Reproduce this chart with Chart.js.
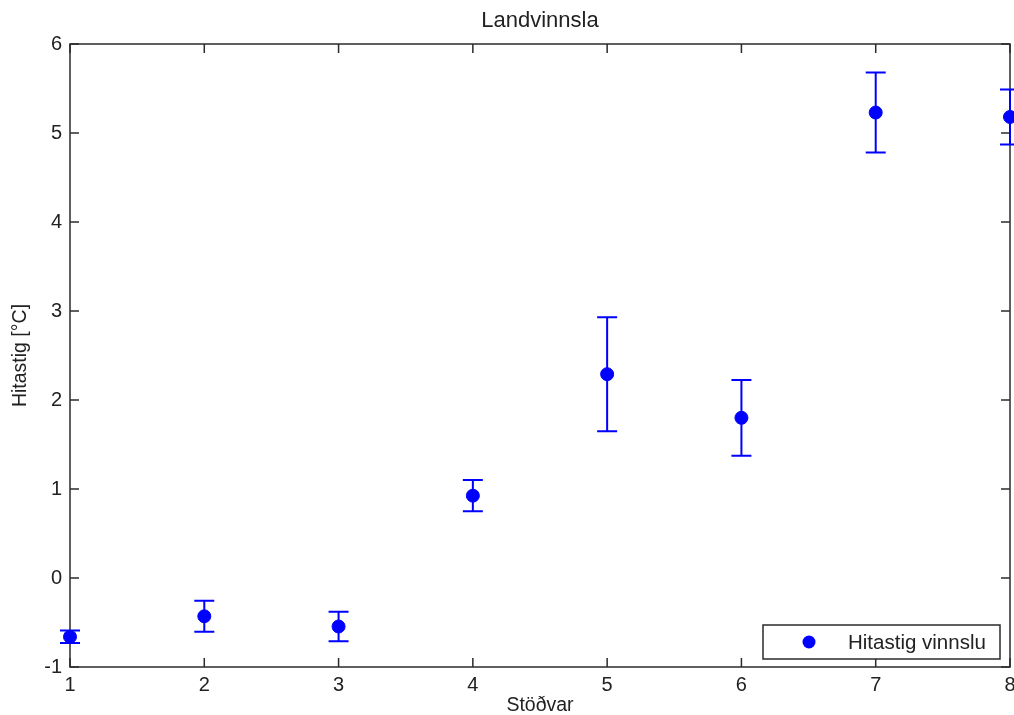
<!DOCTYPE html>
<html lang="is">
<head>
	<meta charset="UTF-8">
	<title>Landvinnsla</title>
	<script src="https://cdn.jsdelivr.net/npm/chart.js"></script>
	<style>
		body { margin: 0; background: #fff; }
		#wrap { width: 1014px; height: 715px; }
	</style>
</head>
<body>
<div id="wrap"><canvas id="errChart" width="1014" height="715"></canvas></div>
<script>
// data
const stations = [1, 2, 3, 4, 5, 6, 7, 8];
const temps    = [-0.66, -0.43, -0.545, 0.925, 2.29, 1.80, 5.23, 5.18];
const errs     = [0.07, 0.175, 0.165, 0.175, 0.64, 0.425, 0.45, 0.31];
const xTicks   = [1, 2, 3, 4, 5, 6, 7, 8];
const yTicks   = [-1, 0, 1, 2, 3, 4, 5, 6];

const FONT = "'Liberation Sans', Arial, sans-serif";
const TXT = '#222';
const BLUE = '#0000ff';

// box, inward ticks, error bars and legend, matlab style
const matlabBits = {
	id: 'matlabBits',
	beforeDatasetsDraw(chart) {
		const ctx = chart.ctx, a = chart.chartArea;
		const xs = chart.scales.x, ys = chart.scales.y;
		const tl = 9;
		ctx.save();
		ctx.strokeStyle = '#2b2b2b';
		ctx.lineWidth = 1.5;
		ctx.strokeRect(a.left, a.top, a.right - a.left, a.bottom - a.top);
		ctx.beginPath();
		xTicks.forEach(v => {
			const px = xs.getPixelForValue(v);
			ctx.moveTo(px, a.bottom); ctx.lineTo(px, a.bottom - tl);
			ctx.moveTo(px, a.top); ctx.lineTo(px, a.top + tl);
		});
		yTicks.forEach(v => {
			const py = ys.getPixelForValue(v);
			ctx.moveTo(a.left, py); ctx.lineTo(a.left + tl, py);
			ctx.moveTo(a.right, py); ctx.lineTo(a.right - tl, py);
		});
		ctx.stroke();

		// error bars
		ctx.strokeStyle = BLUE;
		ctx.lineWidth = 2;
		ctx.beginPath();
		stations.forEach((s, i) => {
			const px = xs.getPixelForValue(s);
			const hi = ys.getPixelForValue(temps[i] + errs[i]);
			const lo = ys.getPixelForValue(temps[i] - errs[i]);
			ctx.moveTo(px, hi); ctx.lineTo(px, lo);
			ctx.moveTo(px - 10, hi); ctx.lineTo(px + 10, hi);
			ctx.moveTo(px - 10, lo); ctx.lineTo(px + 10, lo);
		});
		ctx.stroke();
		ctx.restore();
	},
	afterDraw(chart) {
		const ctx = chart.ctx, a = chart.chartArea;
		const w = 237, h = 34;
		const bx = a.right - 10 - w, by = a.bottom - 8 - h;
		ctx.save();
		ctx.fillStyle = '#fff';
		ctx.fillRect(bx, by, w, h);
		ctx.strokeStyle = '#2b2b2b';
		ctx.lineWidth = 1.5;
		ctx.strokeRect(bx, by, w, h);
		ctx.fillStyle = BLUE;
		ctx.beginPath();
		ctx.arc(bx + 46, by + h / 2, 6.5, 0, Math.PI * 2);
		ctx.fill();
		ctx.fillStyle = TXT;
		ctx.font = '20.5px ' + FONT;
		ctx.textBaseline = 'middle';
		ctx.fillText(chart.data.datasets[0].label, bx + 85, by + h / 2 + 1);
		ctx.restore();
	}
};

const ctx = document.getElementById('errChart').getContext('2d');
const errChart = new Chart(ctx, {
	type: 'scatter',
	data: {
		datasets: [{
			label: 'Hitastig vinnslu',
			data: stations.map((s, i) => ({ x: s, y: temps[i] })),
			backgroundColor: BLUE,
			borderColor: BLUE,
			pointRadius: 6.5,
			pointHoverRadius: 6.5,
			clip: false
		}]
	},
	options: {
		responsive: false,
		animation: false,
		layout: { autoPadding: false, padding: { right: 4 } },
		plugins: {
			legend: { display: false },
			tooltip: { enabled: false },
			title: {
				display: true,
				text: 'Landvinnsla',
				fullSize: false,
				color: TXT,
				font: { family: FONT, size: 22, weight: 'normal', lineHeight: 1 },
				padding: { top: 10, bottom: 12 }
			}
		},
		scales: {
			x: {
				type: 'linear',
				min: 1, max: 8,
				afterFit: s => { s.height = 48; s.paddingRight = 0; s.paddingLeft = 0; },
				afterBuildTicks: s => { s.ticks = xTicks.map(v => ({ value: v })); },
				grid: { display: false, drawTicks: false },
				border: { display: false },
				ticks: { color: TXT, font: { family: FONT, size: 20 }, padding: 6, maxRotation: 0 },
				title: {
					display: true, text: 'Stöðvar', color: TXT,
					font: { family: FONT, size: 19.5, lineHeight: 1 }, padding: 0
				}
			},
			y: {
				min: -1, max: 6,
				afterFit: s => { s.width = 70; s.paddingTop = 0; s.paddingBottom = 0; },
				afterBuildTicks: s => { s.ticks = yTicks.map(v => ({ value: v })); },
				grid: { display: false, drawTicks: false },
				border: { display: false },
				ticks: { color: TXT, font: { family: FONT, size: 20 }, padding: 8 },
				title: {
					display: true, text: 'Hitastig [°C]', color: TXT,
					font: { family: FONT, size: 19.5, lineHeight: 1 }, padding: { top: 11, bottom: 0 }
				}
			}
		}
	},
	plugins: [matlabBits]
});
</script>
</body>
</html>
